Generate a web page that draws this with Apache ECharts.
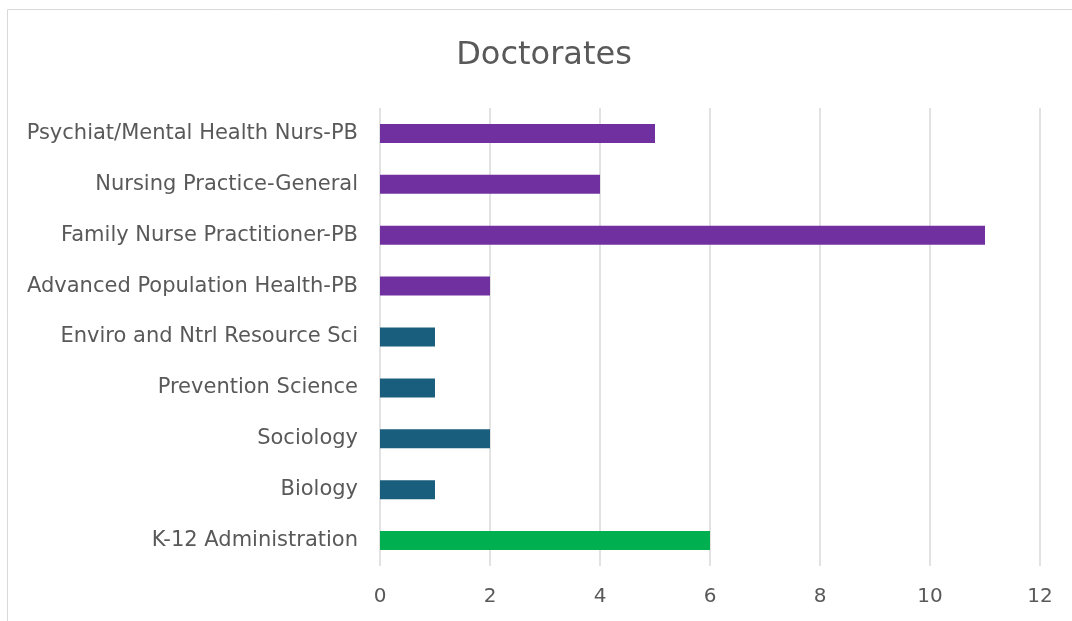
<!DOCTYPE html>
<html>
<head>
<meta charset="utf-8">
<script src="https://cdn.jsdelivr.net/npm/echarts@6/dist/echarts.min.js"></script>
<style>
  html, body { margin: 0; padding: 0; background: #fff; }
  #main { width: 1072px; height: 621px; }
</style>
</head>
<body>
<div id="main"></div>
<script>
// categories listed top to bottom
const categories = [
  'Psychiat/Mental Health Nurs-PB',
  'Nursing Practice-General',
  'Family Nurse Practitioner-PB',
  'Advanced Population Health-PB',
  'Enviro and Ntrl Resource Sci',
  'Prevention Science',
  'Sociology',
  'Biology',
  'K-12 Administration'
];
const values = [5, 4, 11, 2, 1, 1, 2, 1, 6];
const groups = ['nurs', 'nurs', 'nurs', 'nurs', 'sci', 'sci', 'sci', 'sci', 'edu'];
const groupColors = { nurs: '#7030a0', sci: '#1a5e7e', edu: '#00b050' };
const xTicks = [0, 2, 4, 6, 8, 10, 12];

const chart = echarts.init(document.getElementById('main'), null, { renderer: 'canvas' });
const font = 'DejaVu Sans, Liberation Sans, sans-serif';

// category axis runs bottom to top, so reverse for display
const cats = categories.slice().reverse();
const data = values.map((v, i) => ({
  value: v,
  itemStyle: { color: groupColors[groups[i]] }
})).reverse();

const option = {
  backgroundColor: '#fff',
  animation: false,
  graphic: [{
    type: 'rect',
    shape: { x: 7.5, y: 9.5, width: 1100, height: 700 },
    style: { fill: 'none', stroke: '#d9d9d9', lineWidth: 1 },
    silent: true
  }],
  title: {
    text: 'Doctorates',
    left: 544,
    textAlign: 'center',
    top: 35,
    textStyle: { fontFamily: font, fontSize: 32, fontWeight: 'normal', color: '#595959' }
  },
  grid: { left: 380, right: 32, top: 108, bottom: 55, containLabel: false },
  xAxis: {
    type: 'value',
    min: xTicks[0],
    max: xTicks[xTicks.length - 1],
    interval: 2,
    axisLine: { show: false },
    axisTick: { show: false },
    axisLabel: { margin: 21, fontFamily: font, fontSize: 20, color: '#595959' },
    splitLine: { show: true, lineStyle: { color: '#d9d9d9', width: 1.5 } }
  },
  yAxis: {
    type: 'category',
    data: cats,
    axisLine: { show: false },
    axisTick: { show: false },
    axisLabel: { margin: 22, fontFamily: font, fontSize: 21, color: '#595959' }
  },
  series: [{
    type: 'bar',
    barWidth: 19,
    data: data
  }]
};
chart.setOption(option);
// title is centred on the text, nudge to match reference centre
chart.setOption({ title: { left: 539 } });
</script>
</body>
</html>
